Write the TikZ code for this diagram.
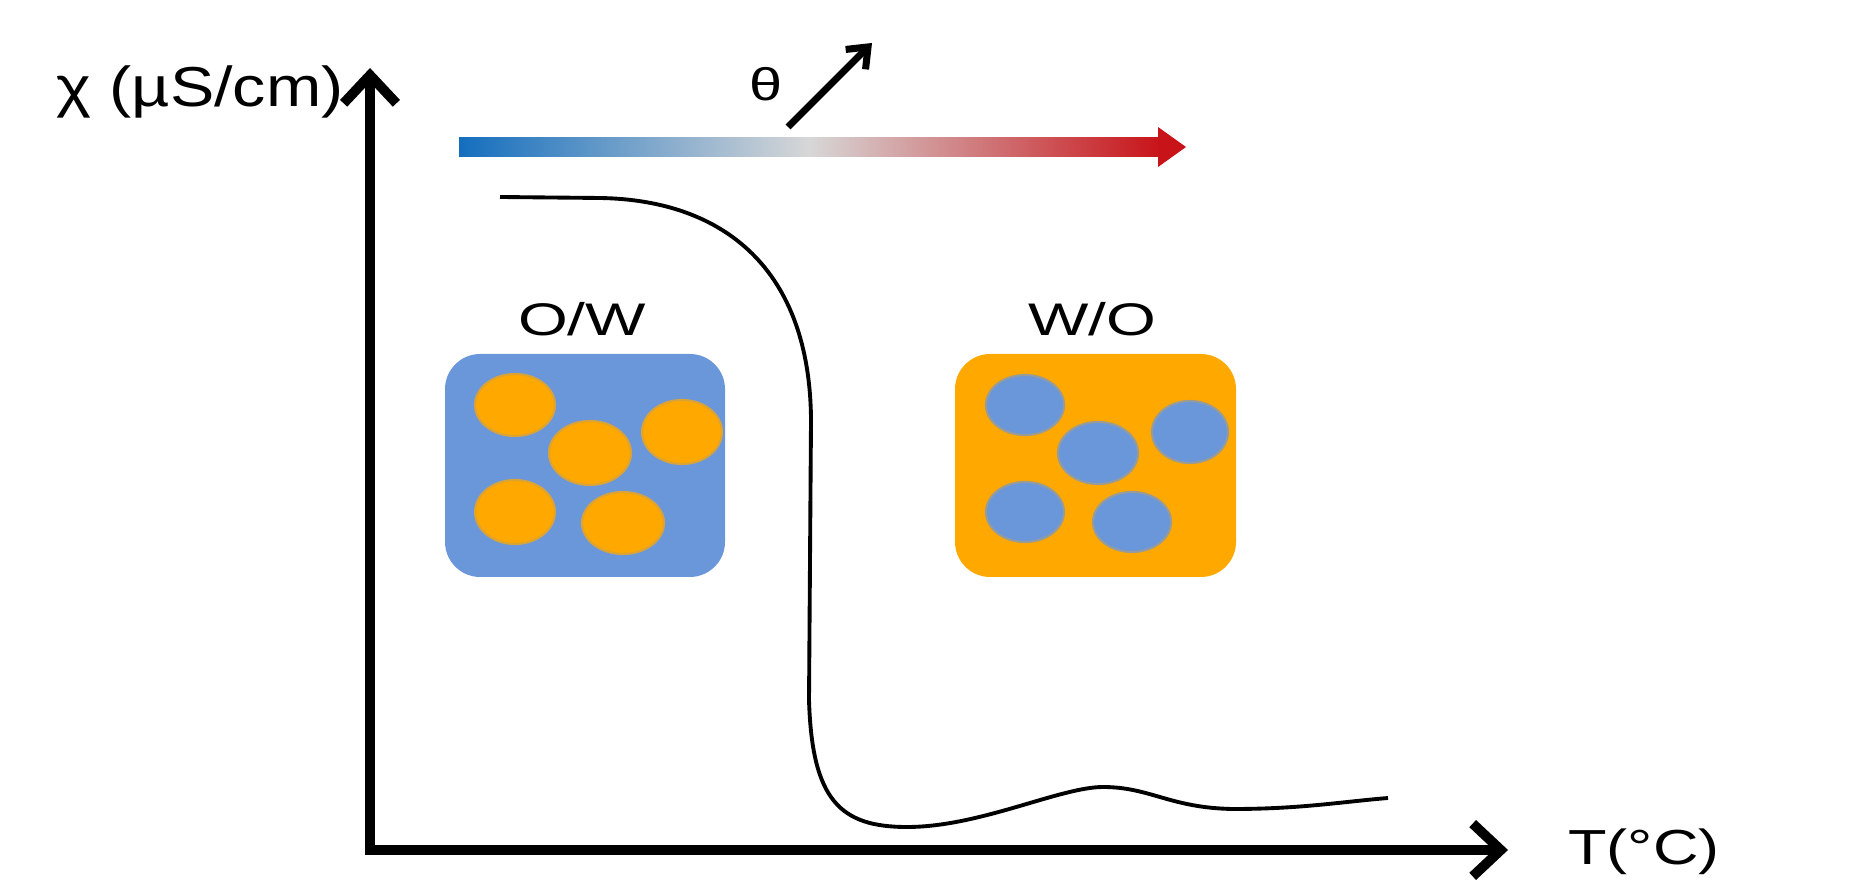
\documentclass[tikz,border=0pt]{standalone}
\usepackage{fontspec}
\setmainfont{Liberation Sans}
\usepackage{graphicx}
\usetikzlibrary{arrows.meta}
\definecolor{waterblue}{RGB}{106,150,218}
\definecolor{oilorange}{RGB}{255,168,0}
\definecolor{coldblue}{RGB}{20,110,190}
\definecolor{midgray}{RGB}{215,215,215}
\definecolor{hotred}{RGB}{200,20,25}
\newcommand{\stretchx}[2][1.3]{\scalebox{#1}[1]{#2}}
\tikzset{>={Straight Barb[length=8pt,width=15pt]}}

\begin{document}
\begin{tikzpicture}[x=0.01cm,y=-0.01cm,
    axisline/.style={line width=2.8pt,line join=miter},
    phasebox/.style={rounded corners=10pt},
    lbl/.style={inner sep=0pt}]
  \useasboundingbox (0,0) rectangle (1858,886);

  % axes
  \coordinate (origin) at (370,850);
  \coordinate (ytip) at (370,68);
  \coordinate (xtip) at (1508,850);
  \draw[axisline,<->] (ytip) -- (origin) -- (xtip);
  \node[lbl,font=\fontsize{16}{18}\selectfont] (ylab) at (200,92) {\stretchx[1.18]{χ (µS/cm)}};
  \node[lbl,font=\fontsize{14}{16}\selectfont] (xlab) at (1644,852) {\stretchx[1.28]{T(°C)}};

  % temperature bar
  \shade[left color=coldblue,right color=hotred,middle color=midgray] (459,138) rectangle (1160,157);
  \fill[hotred] (1158,127) -- (1186,147) -- (1158,167) -- cycle;
  \node[lbl,font=\fontsize{13}{15}\selectfont] (theta) at (766,84) {\stretchx{θ}};
  \coordinate (rise0) at (788,127);
  \coordinate (rise1) at (872,43);
  \draw[line width=2pt,-{Straight Barb[length=5pt,width=8pt]}] (rise0) -- (rise1);

  % conductivity curve
  \draw[line width=1.1pt] (500,197) -- (600,198)
    .. controls (725,200) and (810,270) .. (811,420)
    -- (809,700)
    .. controls (812,800) and (840,827) .. (907,827)
    .. controls (980,827) and (1060,787) .. (1103,787)
    .. controls (1150,787) and (1170,808) .. (1233,809)
    .. controls (1300,809) and (1340,802) .. (1388,798);

  % emulsions
  \node[lbl,font=\fontsize{13}{15}\selectfont] (ow) at (582,319) {\stretchx[1.4]{O/W}};
  \fill[waterblue,phasebox] (445,354) rectangle (725,577);
  \foreach \cx/\cy/\rx/\ry in {515/405/40/31,590/453/41/32,682/432/40/32,515/512/40/32,623/523/41/31}
    \filldraw[fill=oilorange,draw=oilorange!75!waterblue,line width=0.6pt] (\cx,\cy) ellipse [x radius=\rx, y radius=\ry];

  \node[lbl,font=\fontsize{13}{15}\selectfont] (wo) at (1092,319) {\stretchx[1.4]{W/O}};
  \fill[oilorange,phasebox] (955,354) rectangle (1236,577);
  \foreach \cx/\cy/\rx/\ry in {1025/405/39/30,1098/453/40/31,1190/432/38/31,1025/512/39/30,1132/522/39/30}
    \filldraw[fill=waterblue,draw=waterblue!70!oilorange,line width=0.6pt] (\cx,\cy) ellipse [x radius=\rx, y radius=\ry];
\end{tikzpicture}
\end{document}
